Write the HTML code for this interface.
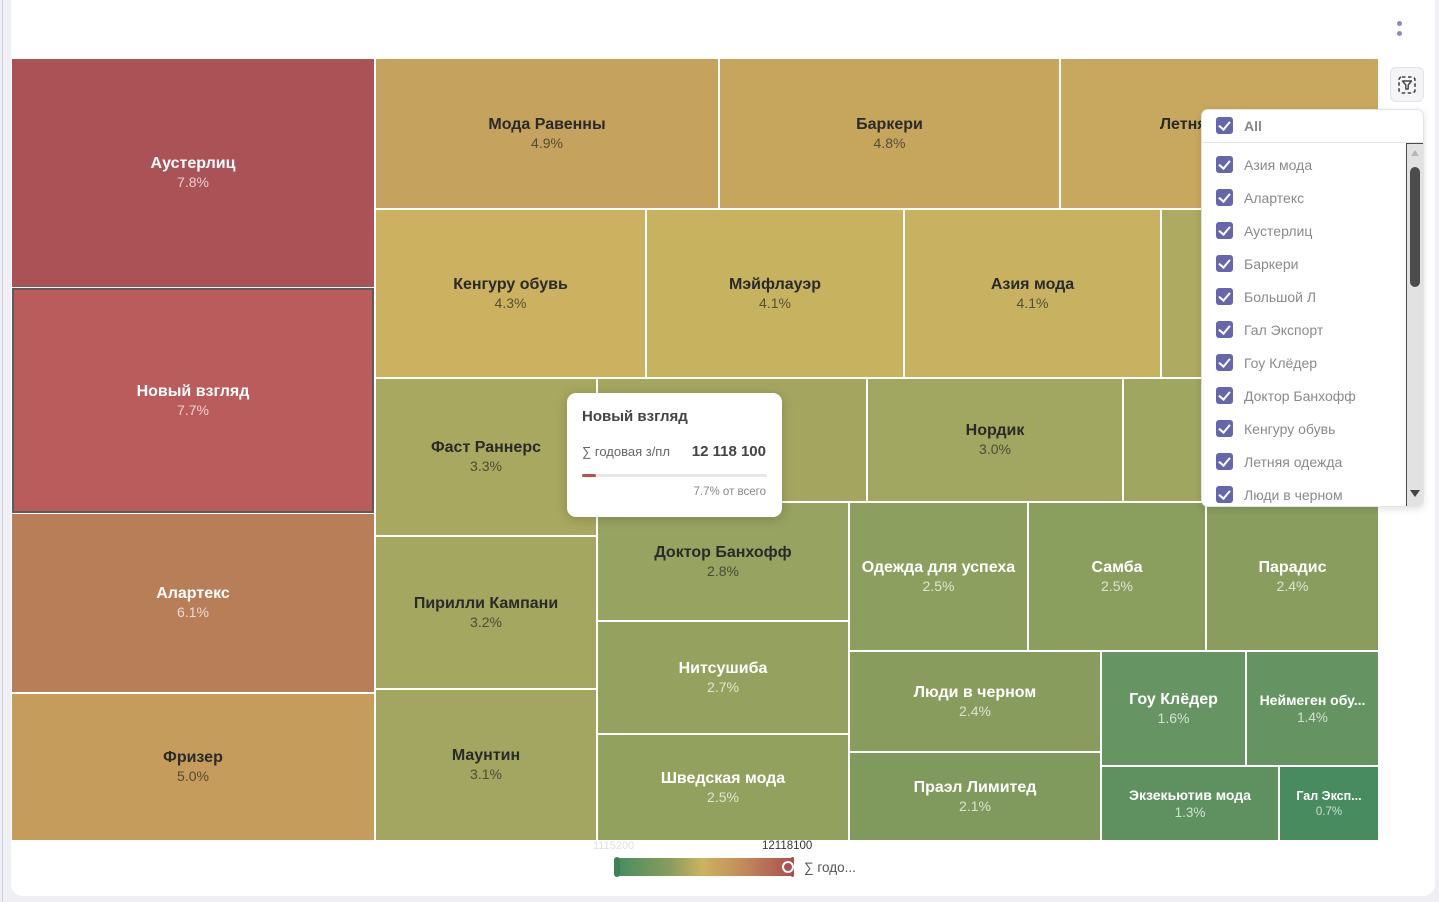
<!DOCTYPE html>
<html>
<head>
<meta charset="utf-8">
<style>
  html,body{margin:0;padding:0;}
  body{width:1439px;height:902px;background:#eff0f5;position:relative;overflow:hidden;font-family:"Liberation Sans","Noto Sans CJK SC",sans-serif;}
  .card{position:absolute;left:11px;top:-12px;width:1424px;height:908px;background:#fff;border-radius:12px;}
  .vline{position:absolute;left:2px;top:0;width:1px;height:902px;background:#cfd0d6;}
  .c{position:absolute;box-sizing:border-box;display:flex;flex-direction:column;align-items:center;justify-content:center;text-align:center;white-space:nowrap;overflow:hidden;}
  .c b{display:block;font-size:16px;line-height:19px;font-weight:bold;}
  .c i{display:block;font-style:normal;font-size:14px;line-height:19px;}
  .w b{color:#fff;} .w i{color:rgba(255,255,255,0.72);}
  .d b{color:#2a2a2a;} .d i{color:rgba(40,40,40,0.72);}
  .s b{font-size:14px;line-height:17px;} .s i{font-size:13.5px;line-height:17px;}
  .xs b{font-size:12.5px;line-height:16px;} .xs i{font-size:11.5px;line-height:16px;}
  .dd{position:absolute;left:1201px;top:109px;width:223px;height:398px;background:#fff;border:1px solid #e4e4e8;border-radius:7px;box-sizing:border-box;box-shadow:0 2px 8px rgba(0,0,0,0.12);overflow:hidden;}
  .cb{position:absolute;left:14px;width:17px;height:17px;background:#6566ae;border-radius:3px;}
  .cb:after{content:"";position:absolute;left:5px;top:2px;width:5px;height:9px;border:solid #fff;border-width:0 2.5px 2.5px 0;transform:rotate(40deg);}
  .it{position:absolute;left:42px;font-size:14px;color:#8a8a8a;line-height:18px;}
  .tt{position:absolute;left:567px;top:393px;width:215px;height:124px;background:#fff;border-radius:9px;box-shadow:0 2px 12px rgba(0,0,0,0.18);}
</style>
</head>
<body>
<div class="vline"></div>
<div class="card"></div>

<!-- menu dots -->
<div style="position:absolute;left:1396.5px;top:20.5px;width:5px;height:5px;border-radius:50%;background:#8b8bc2;"></div>
<div style="position:absolute;left:1396.5px;top:30.5px;width:5px;height:5px;border-radius:50%;background:#8b8bc2;"></div>

<!-- treemap cells -->
<div class="c w" style="left:12px;top:59px;width:362px;height:228px;background:#aa5256;"><b>Аустерлиц</b><i>7.8%</i></div>
<div class="c w" style="left:12px;top:288px;width:362px;height:225px;background:#bb5c5c;border:2px solid #5e5a5a;"><b>Новый взгляд</b><i>7.7%</i></div>
<div class="c w" style="left:12px;top:514px;width:362px;height:178px;background:#b87e58;"><b>Алартекс</b><i>6.1%</i></div>
<div class="c d" style="left:12px;top:694px;width:362px;height:146px;background:#c59c5b;"><b>Фризер</b><i>5.0%</i></div>

<div class="c d" style="left:376px;top:59px;width:342px;height:149px;background:#c5a25d;"><b>Мода Равенны</b><i>4.9%</i></div>
<div class="c d" style="left:720px;top:59px;width:339px;height:149px;background:#c6a55d;"><b>Баркери</b><i>4.8%</i></div>
<div class="c d" style="left:1061px;top:59px;width:317px;height:149px;background:#c7a85e;"><b>Летняя одежда</b><i>4.5%</i></div>

<div class="c d" style="left:376px;top:210px;width:269px;height:167px;background:#cbb160;"><b>Кенгуру обувь</b><i>4.3%</i></div>
<div class="c d" style="left:647px;top:210px;width:256px;height:167px;background:#c7b260;"><b>Мэйфлауэр</b><i>4.1%</i></div>
<div class="c d" style="left:905px;top:210px;width:255px;height:167px;background:#c8b262;"><b>Азия мода</b><i>4.1%</i></div>
<div class="c d" style="left:1162px;top:210px;width:216px;height:167px;background:#aeaa62;"></div>

<div class="c d" style="left:376px;top:379px;width:220px;height:156px;background:#a8a860;"><b>Фаст Раннерс</b><i>3.3%</i></div>
<div class="c d" style="left:598px;top:379px;width:268px;height:122px;background:#a4a660;"></div>
<div class="c d" style="left:868px;top:379px;width:254px;height:122px;background:#a1a660;"><b>Нордик</b><i>3.0%</i></div>
<div class="c d" style="left:1124px;top:379px;width:254px;height:122px;background:#9fa65f;"></div>

<div class="c d" style="left:376px;top:537px;width:220px;height:151px;background:#a4a75f;"><b>Пирилли Кампани</b><i>3.2%</i></div>
<div class="c d" style="left:376px;top:690px;width:220px;height:150px;background:#a2a660;"><b>Маунтин</b><i>3.1%</i></div>

<div class="c d" style="left:598px;top:503px;width:250px;height:117px;background:#97a360;"><b>Доктор Банхофф</b><i>2.8%</i></div>
<div class="c w" style="left:598px;top:622px;width:250px;height:111px;background:#95a25f;"><b>Нитсушиба</b><i>2.7%</i></div>
<div class="c w" style="left:598px;top:735px;width:250px;height:105px;background:#92a15e;"><b>Шведская мода</b><i>2.5%</i></div>

<div class="c w" style="left:850px;top:503px;width:177px;height:147px;background:#8d9f5e;"><b>Одежда для успеха</b><i>2.5%</i></div>
<div class="c w" style="left:1029px;top:503px;width:176px;height:147px;background:#8a9e5e;"><b>Самба</b><i>2.5%</i></div>
<div class="c w" style="left:1207px;top:503px;width:171px;height:147px;background:#889d5e;"><b>Парадис</b><i>2.4%</i></div>

<div class="c w" style="left:850px;top:652px;width:250px;height:99px;background:#889c5d;"><b>Люди в черном</b><i>2.4%</i></div>
<div class="c w" style="left:850px;top:753px;width:250px;height:87px;background:#7f9a5c;"><b>Праэл Лимитед</b><i>2.1%</i></div>

<div class="c w" style="left:1102px;top:652px;width:143px;height:113px;background:#679463;"><b>Гоу Клёдер</b><i>1.6%</i></div>
<div class="c w s" style="left:1247px;top:652px;width:131px;height:113px;background:#659462;"><b>Неймеген обу...</b><i>1.4%</i></div>
<div class="c w s" style="left:1102px;top:767px;width:176px;height:73px;background:#5f9160;"><b>Экзекьютив мода</b><i>1.3%</i></div>
<div class="c w xs" style="left:1280px;top:767px;width:98px;height:73px;background:#488b5f;"><b>Гал Эксп...</b><i>0.7%</i></div>

<!-- legend -->
<div style="position:absolute;left:593px;top:839px;font-size:11px;color:#e2e2e2;line-height:14px;">1115200</div>
<div style="position:absolute;left:762px;top:839px;font-size:11.5px;color:#333;line-height:14px;">12118100</div>
<div style="position:absolute;left:619px;top:858px;width:174px;height:18px;background:linear-gradient(to right,#4a8d5f 0%,#8a9d5e 30%,#cdb360 48%,#c2895a 72%,#a94f52 100%);"></div>
<div style="position:absolute;left:614px;top:857px;width:6px;height:20px;background:#3f8056;border-radius:3px;"></div>
<div style="position:absolute;left:791px;top:857px;width:3px;height:20px;background:#b04a4f;border-radius:2px;"></div>
<div style="position:absolute;left:782px;top:861px;width:8px;height:8px;border-radius:50%;background:#b04e52;border:2.5px solid #fff;"></div>
<div style="position:absolute;left:804px;top:859px;font-size:13.5px;color:#555;line-height:17px;">∑ годо...</div>

<!-- tooltip -->
<div class="tt">
  <div style="position:absolute;left:15px;top:15px;font-size:15px;font-weight:bold;color:#444;line-height:18px;">Новый взгляд</div>
  <div style="position:absolute;left:15px;top:51px;font-size:13px;color:#666;line-height:16px;">∑ годовая з/пл</div>
  <div style="position:absolute;right:16px;top:50px;font-size:15px;font-weight:bold;color:#444;line-height:18px;">12 118 100</div>
  <div style="position:absolute;left:15px;top:81px;width:185px;height:3px;background:#e8e8e8;border-radius:2px;"></div>
  <div style="position:absolute;left:15px;top:81px;width:14px;height:3px;background:#b84f4f;border-radius:2px;"></div>
  <div style="position:absolute;right:16px;top:92px;font-size:11.5px;color:#888;line-height:14px;">7.7% от всего</div>
</div>

<!-- filter button -->
<div style="position:absolute;left:1390px;top:67px;width:34px;height:35px;box-sizing:border-box;background:#f4f4f6;border:1px solid #e3e3e8;border-radius:6px;">
  <svg width="32" height="33" viewBox="0 0 32 33" style="position:absolute;left:0;top:0;">
    <rect x="8" y="9" width="16" height="16" rx="3" fill="none" stroke="#444" stroke-width="1.6" stroke-dasharray="3.5 2.5"/>
    <path d="M11.5 13 L20.5 13 L17.2 17 L17.2 21 L14.8 21 L14.8 17 Z" fill="none" stroke="#444" stroke-width="1.4" stroke-linejoin="round"/>
  </svg>
</div>

<!-- dropdown -->
<div class="dd">
  <div class="cb" style="top:7px;"></div>
  <div style="position:absolute;left:42px;top:7px;font-size:14px;font-weight:bold;color:#888;line-height:18px;">All</div>
  <div style="position:absolute;left:0;top:32px;width:223px;height:1px;background:#e4e4e4;"></div>

  <div class="cb" style="top:46px;"></div><div class="it" style="top:46px;">Азия мода</div>
  <div class="cb" style="top:79px;"></div><div class="it" style="top:79px;">Алартекс</div>
  <div class="cb" style="top:112px;"></div><div class="it" style="top:112px;">Аустерлиц</div>
  <div class="cb" style="top:145px;"></div><div class="it" style="top:145px;">Баркери</div>
  <div class="cb" style="top:178px;"></div><div class="it" style="top:178px;">Большой Л</div>
  <div class="cb" style="top:211px;"></div><div class="it" style="top:211px;">Гал Экспорт</div>
  <div class="cb" style="top:244px;"></div><div class="it" style="top:244px;">Гоу Клёдер</div>
  <div class="cb" style="top:277px;"></div><div class="it" style="top:277px;">Доктор Банхофф</div>
  <div class="cb" style="top:310px;"></div><div class="it" style="top:310px;">Кенгуру обувь</div>
  <div class="cb" style="top:343px;"></div><div class="it" style="top:343px;">Летняя одежда</div>
  <div class="cb" style="top:376px;"></div><div class="it" style="top:376px;">Люди в черном</div>

  <!-- scrollbar -->
  <div style="position:absolute;left:204px;top:33px;width:18px;height:364px;box-sizing:border-box;border:1px solid #4a4a4a;background:#e2e2e2;">
    <div style="position:absolute;left:4px;top:6px;width:0;height:0;border-left:4.5px solid transparent;border-right:4.5px solid transparent;border-bottom:6px solid #b8b8b8;"></div>
    <div style="position:absolute;left:3px;top:23px;width:10px;height:120px;background:#4c4c4c;border-radius:5px;"></div>
    <div style="position:absolute;left:3px;top:346px;width:0;height:0;border-left:5.5px solid transparent;border-right:5.5px solid transparent;border-top:7px solid #444;"></div>
  </div>
</div>

</body>
</html>
